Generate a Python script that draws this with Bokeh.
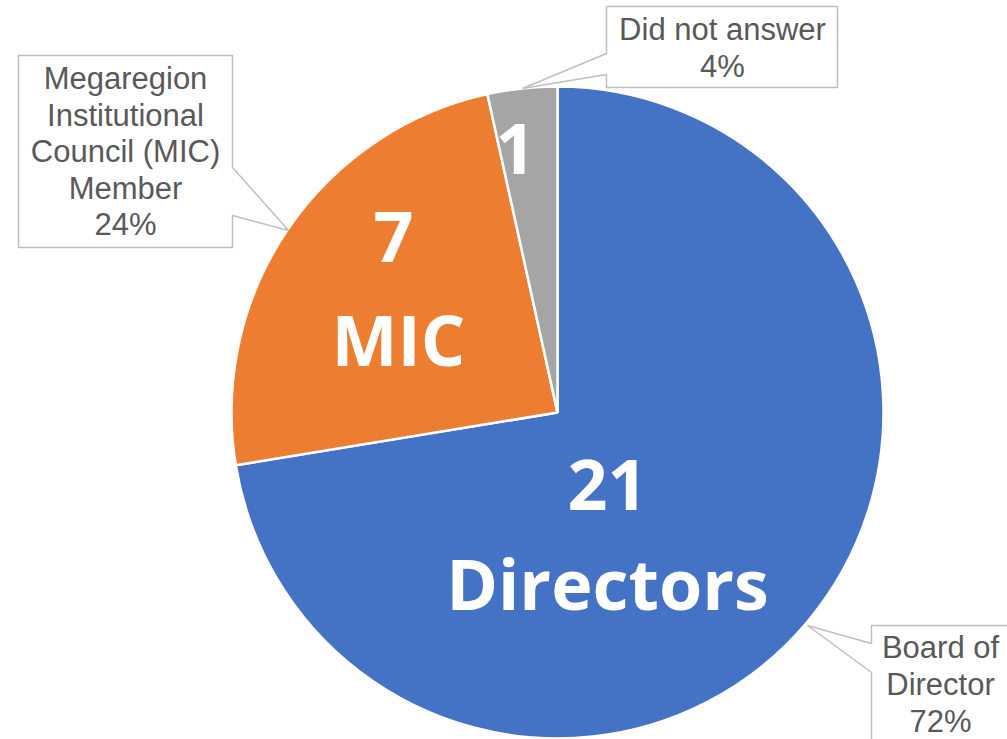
import math
from bokeh.plotting import figure
from bokeh.models import Range1d
from bokeh.core.properties import value
from bokeh.embed import file_html
from bokeh.resources import INLINE

# ---- data ----
categories = ["Board of Director", "Megaregion Institutional Council (MIC) Member", "Did not answer"]
counts = [21, 7, 1]
pct_labels = ["72%", "24%", "4%"]
inner_labels = [["21", "Directors"], ["7", "MIC"], ["1"]]
colors = ["#4472C4", "#ED7D31", "#A5A5A5"]

W, H = 1007, 739
def Y(ry):
    return 739 - ry

p = figure(width=W, height=H, output_backend="svg", toolbar_location=None,
           x_range=Range1d(0, W), y_range=Range1d(0, H),
           min_border=0)
p.axis.visible = False
p.grid.visible = False
p.outline_line_color = None
p.background_fill_color = "white"
p.border_fill_color = "white"

# ---- pie ----
cx, cy, r = 557, Y(412), 326
total = sum(counts)
start = math.pi / 2
starts, ends = [], []
for c in counts:
    a = 2 * math.pi * c / total
    starts.append(start)
    ends.append(start - a)
    start -= a
p.wedge(x=[cx] * 3, y=[cy] * 3, radius=r, start_angle=starts, end_angle=ends,
        direction="clock", fill_color=colors, line_color="white", line_width=2.5)

# ---- inner labels (vertical centres) ----
inner_pos = [[(607, 484), (607, 582)], [(393, 236), (398, 338)], [(515, 148)]]
for lines, poss in zip(inner_labels, inner_pos):
    for t, (x, yy) in zip(lines, poss):
        p.text(x=[x], y=[Y(yy)], text=[t], text_font=value("Open Sans"),
               text_font_style="bold", text_font_size="70px", text_color="white",
               text_align="center", text_baseline="middle")

# ---- callouts ----
callouts = [
    [(871, 625), (1030, 625), (1030, 760), (871, 760), (871, 672), (807, 625), (871, 643)],
    [(18, 55), (232, 55), (232, 167), (288, 230), (232, 215), (232, 247), (18, 247)],
    [(606, 6), (837, 6), (837, 87), (606, 87), (606, 74), (522, 88), (606, 53)],
]
for poly in callouts:
    p.patch(x=[q[0] for q in poly], y=[Y(q[1]) for q in poly], fill_color="white",
            line_color="#BFBFBF", line_width=1.5)

callout_lines = [
    ["Board of", "Director", pct_labels[0]],
    ["Megaregion", "Institutional", "Council (MIC)", "Member", pct_labels[1]],
    ["Did not answer", pct_labels[2]],
]
callout_text_pos = [(940, 647, 37), (125, 78, 36.6), (722, 29, 37)]
for lines, (x, y0, dy) in zip(callout_lines, callout_text_pos):
    for i, t in enumerate(lines):
        p.text(x=[x], y=[Y(y0 + i * dy)], text=[t], text_font=value("Liberation Sans"),
               text_font_size="31px", text_color="#595959",
               text_align="center", text_baseline="middle")

open("out.html", "w").write(file_html(p, INLINE))
